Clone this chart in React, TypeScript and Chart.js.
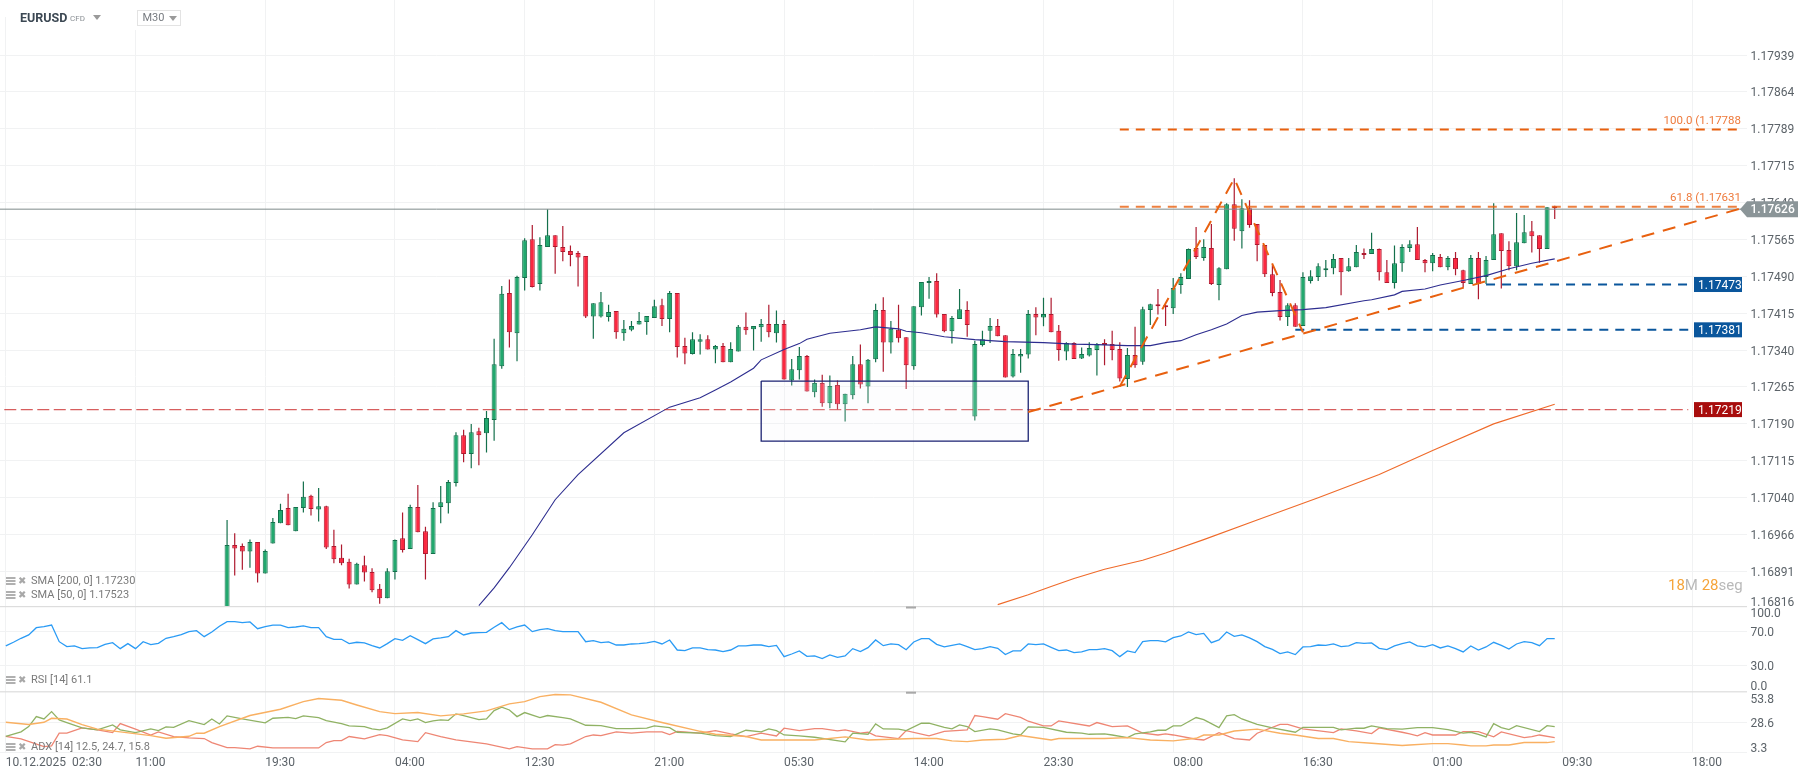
import React, { useEffect, useRef } from "react";
import { Chart, registerables } from "chart.js";

Chart.register(...registerables);

// ---------- candles, M30, first visible candle sits at bar 29 ----------
const firstCandle = 29;
const opens = [1.16792,
1.16944,1.16942,1.16931,1.16950,1.16886,1.16947,1.16988,1.17019,1.16972,1.17019,
1.17044,1.17016,1.17023,1.16942,1.16918,1.16910,1.16864,1.16903,1.16889,1.16855,
1.16836,1.16889,1.16958,1.16936,1.17021,1.16972,1.16926,1.17021,1.17029,1.17070,
1.17167,1.17129,1.17175,1.17171,1.17198,1.17307,1.17456,1.17374,1.17486,1.17565,
1.17474,1.17549,1.17573,1.17549,1.17541,1.17537,1.17531,1.17408,1.17408,1.17407,
1.17419,1.17374,1.17381,1.17392,1.17397,1.17405,1.17431,1.17403,1.17456,1.17348,
1.17332,1.17357,1.17362,1.17341,1.17348,1.17315,1.17337,1.17387,1.17382,1.17386,
1.17393,1.17374,1.17393,1.17278,1.17299,1.17328,1.17254,1.17273,1.17232,1.17269,
1.17230,1.17248,1.17311,1.17266,1.17321,1.17421,1.17355,1.17381,1.17366,1.17307,
1.17427,1.17476,1.17480,1.17413,1.17378,1.17403,1.17421,1.17205,1.17350,1.17379,
1.17389,1.17370,1.17286,1.17327,1.17331,1.17413,1.17406,1.17413,1.17379,1.17337,
1.17354,1.17323,1.17329,1.17340,1.17354,1.17352,1.17342,1.17281,1.17330,1.17316,
1.17421,1.17433,1.17431,1.17425,1.17472,1.17484,1.17547,1.17527,1.17547,1.17472,
1.17504,1.17636,1.17581,1.17628,1.17596,1.17553,1.17494,1.17458,1.17407,1.17431,
1.17389,1.17480,1.17488,1.17502,1.17506,1.17527,1.17500,1.17508,1.17537,1.17535,
1.17545,1.17498,1.17476,1.17516,1.17547,1.17555,1.17523,1.17516,1.17529,1.17508,
1.17527,1.17502,1.17474,1.17527,1.17488,1.17523,1.17577,1.17543,1.17510,1.17557,
1.17581,1.17573,1.17545,1.17632];
const highs = [1.16995,
1.16968,1.16947,1.16955,1.16950,1.16935,1.16999,1.17028,1.17048,1.17021,1.17073,
1.17046,1.17060,1.17024,1.16975,1.16945,1.16916,1.16908,1.16922,1.16897,1.16865,
1.16897,1.16955,1.17010,1.17026,1.17066,1.16981,1.17031,1.17064,1.17076,1.17173,
1.17178,1.17190,1.17182,1.17216,1.17363,1.17470,1.17483,1.17491,1.17567,1.17594,
1.17569,1.17626,1.17573,1.17592,1.17552,1.17541,1.17531,1.17435,1.17458,1.17432,
1.17419,1.17401,1.17399,1.17417,1.17409,1.17442,1.17444,1.17460,1.17456,1.17365,
1.17376,1.17372,1.17370,1.17350,1.17354,1.17356,1.17391,1.17416,1.17389,1.17403,
1.17432,1.17420,1.17401,1.17322,1.17346,1.17330,1.17280,1.17290,1.17288,1.17278,
1.17251,1.17328,1.17351,1.17322,1.17434,1.17447,1.17399,1.17432,1.17366,1.17429,
1.17478,1.17488,1.17496,1.17413,1.17409,1.17464,1.17439,1.17359,1.17379,1.17405,
1.17403,1.17370,1.17342,1.17342,1.17421,1.17427,1.17446,1.17446,1.17391,1.17356,
1.17356,1.17345,1.17356,1.17354,1.17362,1.17379,1.17356,1.17344,1.17387,1.17428,
1.17434,1.17464,1.17432,1.17486,1.17496,1.17546,1.17590,1.17565,1.17596,1.17508,
1.17638,1.17689,1.17646,1.17644,1.17596,1.17553,1.17512,1.17482,1.17435,1.17435,
1.17498,1.17502,1.17516,1.17523,1.17535,1.17527,1.17527,1.17553,1.17546,1.17578,
1.17546,1.17523,1.17552,1.17555,1.17563,1.17590,1.17525,1.17537,1.17535,1.17531,
1.17539,1.17503,1.17533,1.17539,1.17531,1.17638,1.17577,1.17561,1.17618,1.17614,
1.17602,1.17573,1.17630,1.17633];
const lows = [1.16782,
1.16882,1.16894,1.16898,1.16868,1.16886,1.16947,1.16988,1.16984,1.16972,1.17010,
1.17004,1.16992,1.16936,1.16907,1.16903,1.16856,1.16864,1.16870,1.16848,1.16825,
1.16836,1.16874,1.16929,1.16936,1.16970,1.16874,1.16926,1.16988,1.17008,1.17063,
1.17112,1.17100,1.17106,1.17132,1.17156,1.17302,1.17345,1.17317,1.17461,1.17467,
1.17461,1.17549,1.17495,1.17520,1.17510,1.17469,1.17405,1.17363,1.17406,1.17398,
1.17363,1.17359,1.17378,1.17392,1.17371,1.17405,1.17389,1.17376,1.17325,1.17311,
1.17331,1.17331,1.17341,1.17313,1.17315,1.17315,1.17337,1.17371,1.17339,1.17357,
1.17366,1.17355,1.17280,1.17268,1.17280,1.17256,1.17244,1.17225,1.17222,1.17219,
1.17195,1.17240,1.17262,1.17232,1.17315,1.17296,1.17333,1.17355,1.17261,1.17300,
1.17410,1.17444,1.17406,1.17376,1.17353,1.17403,1.17367,1.17197,1.17347,1.17354,
1.17368,1.17284,1.17284,1.17294,1.17323,1.17370,1.17388,1.17376,1.17318,1.17319,
1.17322,1.17322,1.17327,1.17288,1.17309,1.17319,1.17276,1.17265,1.17304,1.17310,
1.17391,1.17412,1.17389,1.17413,1.17454,1.17484,1.17525,1.17521,1.17472,1.17441,
1.17504,1.17562,1.17546,1.17588,1.17520,1.17488,1.17449,1.17400,1.17389,1.17387,
1.17389,1.17475,1.17480,1.17488,1.17494,1.17451,1.17499,1.17508,1.17525,1.17535,
1.17481,1.17476,1.17465,1.17499,1.17539,1.17523,1.17498,1.17500,1.17508,1.17502,
1.17492,1.17467,1.17474,1.17443,1.17474,1.17523,1.17465,1.17502,1.17502,1.17557,
1.17538,1.17517,1.17545,1.17606];
const closes = [1.16944,
1.16937,1.16931,1.16950,1.16886,1.16932,1.16991,1.17015,1.16984,1.17021,1.17042,
1.17017,1.17023,1.16939,1.16915,1.16907,1.16864,1.16906,1.16888,1.16852,1.16836,
1.16891,1.16954,1.16934,1.17021,1.16970,1.16926,1.17019,1.17031,1.17072,1.17167,
1.17129,1.17173,1.17167,1.17202,1.17311,1.17454,1.17376,1.17488,1.17563,1.17468,
1.17553,1.17573,1.17549,1.17539,1.17533,1.17528,1.17408,1.17435,1.17437,1.17417,
1.17376,1.17383,1.17389,1.17399,1.17409,1.17429,1.17403,1.17456,1.17346,1.17333,
1.17362,1.17362,1.17341,1.17348,1.17315,1.17342,1.17387,1.17380,1.17389,1.17393,
1.17376,1.17393,1.17280,1.17301,1.17328,1.17256,1.17273,1.17232,1.17267,1.17230,
1.17251,1.17311,1.17270,1.17320,1.17421,1.17355,1.17383,1.17364,1.17309,1.17429,
1.17478,1.17480,1.17412,1.17378,1.17405,1.17423,1.17391,1.17352,1.17362,1.17389,
1.17368,1.17284,1.17332,1.17332,1.17413,1.17406,1.17413,1.17376,1.17340,1.17354,
1.17322,1.17332,1.17344,1.17352,1.17350,1.17340,1.17282,1.17330,1.17309,1.17423,
1.17433,1.17429,1.17427,1.17466,1.17488,1.17545,1.17529,1.17549,1.17474,1.17506,
1.17636,1.17586,1.17628,1.17594,1.17553,1.17494,1.17456,1.17407,1.17431,1.17387,
1.17488,1.17490,1.17510,1.17506,1.17525,1.17498,1.17510,1.17539,1.17533,1.17545,
1.17498,1.17476,1.17516,1.17549,1.17555,1.17523,1.17516,1.17533,1.17508,1.17527,
1.17504,1.17476,1.17527,1.17474,1.17523,1.17575,1.17541,1.17510,1.17559,1.17579,
1.17571,1.17545,1.17630,1.17628];

// ---------- moving averages, read at the bars listed ----------
const sma50Bars = [62,64,66,69,72,75,81,87,91,93,95,98,99,102,104,105,108,112,114,117,118,120,123,127,131,136,140,143,147,150,152,154,156,158,160,162,164,167,170,173,178,179,182,183,186,188,191,194,197,200,203];
const sma50Values = [1.16821,1.16857,1.16898,1.16965,1.17036,1.17087,1.17172,1.17224,1.17243,1.17259,1.17275,1.17303,1.17320,1.17341,1.17353,1.17362,1.17374,1.17381,1.17387,1.17383,1.17378,1.17375,1.17367,1.17361,1.17357,1.17355,1.17352,1.17351,1.17349,1.17349,1.17355,1.17359,1.17371,1.17381,1.17393,1.17410,1.17417,1.17420,1.17422,1.17426,1.17440,1.17442,1.17452,1.17459,1.17464,1.17472,1.17481,1.17491,1.17505,1.17516,1.17525];
const sma200Bars = [130,134,137,140,144,149,152,157,164,172,180,187,195,203];
const sma200Values = [1.16823,1.16843,1.16860,1.16876,1.16895,1.16913,1.16928,1.16955,1.16995,1.17040,1.17087,1.17136,1.17190,1.17230];

// ---------- RSI, bar by bar from bar 0 ----------
const rsiValues = [
52.8,57.1,61.8,65.7,74.3,75.5,77.4,57.8,52.0,52.8,
49.6,50.4,50.8,54.7,56.7,49.6,55.5,49.6,57.8,54.3,
55.9,61.8,63.7,66.1,69.6,70.8,63.7,69.2,75.9,81.4,
81.4,80.2,81.0,73.1,75.5,77.4,77.4,74.3,75.1,76.3,
74.3,74.3,63.7,60.6,60.6,55.5,57.1,56.3,53.1,50.4,
55.5,61.4,59.4,64.9,60.2,55.5,61.0,62.2,63.7,70.8,
65.7,68.0,68.4,68.8,74.7,80.2,72.0,75.1,77.4,69.6,
72.0,73.1,70.8,69.6,69.6,69.6,57.8,59.0,56.7,57.5,
53.9,53.9,55.1,55.5,56.3,58.2,55.1,59.8,48.0,47.2,
50.4,50.4,48.4,48.0,46.1,48.0,52.8,52.8,53.9,53.9,52.0,53.5,
40.2,43.3,46.9,40.6,41.0,37.9,42.2,39.4,41.0,49.6,
46.1,50.8,59.8,53.1,55.1,54.3,48.4,57.5,61.4,61.4,
54.7,51.6,53.5,55.1,52.0,48.4,49.6,52.0,50.0,42.6,
46.9,46.9,55.1,54.3,55.1,51.2,47.2,48.0,44.9,45.7,
48.4,48.4,49.6,47.2,40.2,46.9,44.9,57.8,59.0,59.0,
57.5,62.6,64.5,69.2,66.1,67.6,56.7,59.8,69.2,64.1,
65.7,62.2,57.8,52.0,48.8,43.7,45.7,42.6,51.6,52.0,
53.9,53.5,55.1,52.0,52.8,56.7,55.9,56.3,50.0,48.4,52.8,55.5,
57.5,52.8,51.6,54.3,50.4,52.8,49.6,45.7,52.8,48.0,
51.6,57.1,53.5,49.2,55.1,57.8,56.7,53.1,61.4,61.4];

// ---------- ADX pane, read at the bars listed ----------
const adxBars = [0,3,5,6,8,10,12,15,19,21,24,25,26,28,32,36,39,41,44,46,49,51,54,57,60,63,66,68,70,72,74,78,82,86,91,93,97,99,106,110,113,119,122,124,126,128,131,133,137,138,144,147,150,153,156,157,159,161,164,167,169,172,174,176,179,183,184,187,189,191,192,194,195,197,199,202,203];
const adxValues = [28.6,26.7,28.6,32.0,31.4,26.7,22.8,20.5,17.4,15.1,16.8,19.4,19.4,25.0,34.3,39.6,46.0,48.6,47.2,43.2,37.6,35.9,36.8,34.0,35.7,38.2,44.1,46.0,50.3,52.0,51.7,45.5,34.8,28.4,21.0,18.5,16.6,13.7,13.7,16.3,13.7,14.9,14.9,12.9,12.3,13.7,14.3,17.4,13.7,14.9,14.9,15.7,13.7,12.9,15.1,17.9,17.9,21.3,22.8,19.4,17.9,14.9,14.9,12.3,10.9,9.0,9.5,10.6,10.6,9.5,8.7,8.7,9.5,9.5,11.5,11.5,12.3];
const plusDiBars = [0,2,3,4,5,6,7,8,10,12,14,15,17,19,20,21,22,24,26,27,28,29,31,34,35,37,38,39,41,42,44,45,47,48,49,50,52,53,54,55,56,57,58,59,60,62,63,64,65,66,67,68,70,71,73,74,76,78,80,82,84,85,87,88,91,93,95,97,99,100,101,102,104,106,110,111,113,114,115,117,118,120,121,123,124,125,126,127,129,130,132,133,134,136,139,141,142,144,145,147,148,150,151,152,153,154,156,157,159,160,161,162,164,166,169,170,174,175,177,178,179,181,183,185,187,189,191,192,193,194,195,196,197,198,201,202,203];
const plusDiValues = [16.8,20.5,25.0,33.4,31.4,37.6,30.6,28.4,23.9,22.2,26.4,22.2,19.9,23.0,21.6,24.7,24.4,30.0,26.7,31.4,27.2,34.0,31.4,28.1,32.0,32.8,31.7,34.0,32.6,30.0,27.5,25.5,25.0,23.0,22.2,23.9,31.4,30.0,31.4,28.4,29.8,30.6,30.3,35.7,34.3,30.9,31.4,38.5,41.3,39.0,33.4,36.8,32.6,34.3,32.6,31.4,26.1,25.8,23.3,23.3,23.6,25.5,24.1,20.2,19.4,17.4,16.6,21.9,20.5,23.0,21.6,17.9,17.1,16.0,12.1,19.4,18.5,27.2,23.0,22.8,21.6,27.8,27.8,24.4,23.0,26.4,25.0,20.8,23.0,22.2,18.8,17.9,24.7,24.4,20.2,19.4,18.5,18.8,17.9,15.7,18.8,20.5,21.9,21.9,25.5,25.5,32.6,30.9,24.1,34.0,35.1,31.4,26.9,23.9,20.2,24.4,24.4,22.2,23.6,23.6,25.5,23.3,22.8,24.1,24.1,22.4,19.4,20.2,18.5,16.3,27.5,24.1,22.4,25.8,20.8,25.8,25.0];
const minusDiBars = [0,2,5,6,7,8,10,12,14,15,17,19,20,22,24,26,27,29,30,32,33,35,41,42,43,44,45,47,49,50,52,54,55,57,59,63,66,67,69,71,72,73,74,76,77,78,80,82,84,86,87,88,91,93,95,97,99,101,102,104,106,107,109,110,112,113,114,117,118,121,123,126,127,128,130,131,133,134,136,137,138,142,143,145,147,149,151,152,153,156,157,159,161,163,164,167,168,170,174,175,177,179,180,183,184,185,186,187,190,191,193,195,196,199,200,201,203];
const minusDiValues = [16.8,14.6,8.1,8.7,19.4,19.4,23.9,22.2,19.9,27.5,22.8,17.9,20.5,16.6,15.4,14.9,11.5,7.3,7.3,6.2,8.4,7.0,7.0,11.5,13.2,13.2,16.6,14.6,18.2,17.4,13.7,12.3,19.9,16.6,13.7,10.4,6.2,8.1,6.2,6.2,9.8,9.3,10.4,16.6,17.9,17.4,20.5,19.4,20.5,20.5,18.2,21.0,19.4,21.6,18.8,16.6,19.4,17.1,23.6,21.6,23.3,23.3,21.3,22.2,19.4,20.2,17.1,14.9,21.6,17.1,21.0,22.2,34.3,33.4,31.2,35.9,32.8,29.5,25.5,25.5,29.8,25.5,28.4,25.0,25.5,19.4,17.9,18.8,17.9,14.3,13.7,19.9,14.9,13.7,19.4,26.9,26.9,23.0,19.9,23.0,21.3,19.1,23.9,20.2,18.8,17.1,19.9,17.9,17.9,20.8,20.8,16.3,20.5,15.7,16.6,17.9,15.7];

// ---------- axes ----------
const gridBars = [0,17,34,51,68,85,102,119,136,153,170,187,204,221];
const timeLabels = ["10.12.2025  02:30","11:00","19:30","04:00","12:30","21:00","05:30","14:00","23:30","08:00","16:30","01:00","09:30","18:00"];
const priceTicks = [1.17939,1.17864,1.17789,1.17715,1.1764,1.17565,1.1749,1.17415,1.1734,1.17265,1.1719,1.17115,1.1704,1.16966,1.16891];
const rsiTicks = [70,30];
const adxTicks = [28.6,3.3];

// ---------- chart drawings ----------
const lastPrice = 1.17626;
const fib100 = 1.17788;
const fib618 = 1.17631;
const support1 = 1.17473;
const support2 = 1.17381;
const resistance = 1.17219;
const zigzagBars = [146,161,170];
const zigzagPrices = [1.17266,1.17688,1.17376];
const trendBars = [134,227.3];
const trendPrices = [1.17214,1.17627];
const boxBars = [99,134];
const boxPrices = [1.17277,1.17155];

const GREEN = "#22a86e", GREEN_EDGE = "#14704c", RED = "#fb2840", RED_EDGE = "#ae1a2f";
const ORANGE = "#e8600f", BLUE = "#0a569c", DARK_RED = "#a80d0d";
const TICK_FONT = "12px Roboto";
const TICK_COLOR = "#5c6369";

const pts = (xs: number[], ys: number[]) => xs.map((x, i) => ({ x, y: ys[i] }));
const hLine = (a: number, b: number, v: number) => [{ x: a, y: v }, { x: b, y: v }];
const lineDs = (data: any[], color: string, width: number, axis: string, order: number, dash?: number[]) => ({
  type: "line", data, borderColor: color, borderWidth: width, borderDash: dash || [], pointRadius: 0,
  tension: 0, fill: false, yAxisID: axis, order, backgroundColor: color,
});
const fixed = (ticks: number[]) => (s: any) => { s.ticks = ticks.map((value) => ({ value })); };
const fitY = (s: any) => { s.width = 63; s.paddingTop = 0; s.paddingBottom = 0; s.paddingLeft = 0; s.paddingRight = 0; };
const fitX = (s: any) => { s.height = 26.5; s.paddingTop = 0; s.paddingBottom = 0; s.paddingLeft = 0; s.paddingRight = 0; };

const overlay = {
  id: "overlay",
  afterDraw(chart: any) {
    const { ctx, scales } = chart;
    const text = (t: string, x: number, y: number, font: string, color: string, align: CanvasTextAlign = "left") => {
      ctx.font = font; ctx.fillStyle = color; ctx.textAlign = align; ctx.textBaseline = "middle"; ctx.fillText(t, x, y);
    };
    const tri = (x: number, y: number, w: number, h: number, c: string) => {
      ctx.fillStyle = c; ctx.beginPath(); ctx.moveTo(x, y); ctx.lineTo(x + w, y); ctx.lineTo(x + w / 2, y + h); ctx.closePath(); ctx.fill();
    };
    ctx.save();
    // pane separators and handles
    ctx.fillStyle = "#dddddd";
    const sep1 = scales.y.bottom, sep2 = scales.rsi.bottom;
    ctx.fillRect(0, sep1 - 0.5, 1747, 1.2); ctx.fillRect(0, sep2 - 0.5, 1747, 1.2);
    ctx.fillStyle = "#a8a8a8";
    ctx.fillRect(906, sep1, 10, 2); ctx.fillRect(906, sep2, 10, 2);

    // clamped axis labels
    const px = (id: string, v: number) => scales[id].getPixelForValue(v);
    text("1.16816", 1750.5, px("y", 1.16816) - 5.5, TICK_FONT, TICK_COLOR);
    text("100.0", 1750.5, 613.5, TICK_FONT, TICK_COLOR);
    text("0.0", 1750.5, 687, TICK_FONT, TICK_COLOR);
    text("53.8", 1750.5, 699.5, TICK_FONT, TICK_COLOR);
    text("3.3", 1750.5, 749, TICK_FONT, TICK_COLOR);

    // fibonacci captions
    text("100.0 (1.17788", 1741, px("y", fib100) - 8.5, "11.5px Roboto", "#ee7a3c", "right");
    text("61.8 (1.17631", 1741, px("y", fib618) - 8.5, "11.5px Roboto", "#ee7a3c", "right");

    // price tags
    const tag = (v: number, bg: string, label: string) => {
      const y = px("y", v);
      ctx.fillStyle = bg; ctx.fillRect(1694, y - 7.5, 48, 15);
      text(label, 1698, y + 1, TICK_FONT, "#ffffff");
    };
    tag(support1, BLUE, "1.17473");
    tag(support2, BLUE, "1.17381");
    tag(resistance, DARK_RED, "1.17219");
    const ly = px("y", lastPrice);
    ctx.fillStyle = "#8b9598";
    ctx.beginPath(); ctx.moveTo(1740, ly); ctx.lineTo(1747, ly - 8); ctx.lineTo(1798, ly - 8); ctx.lineTo(1798, ly + 8); ctx.lineTo(1747, ly + 8); ctx.closePath(); ctx.fill();
    text("1.17626", 1750.5, ly + 1, "500 12px Roboto", "#ffffff");

    // header
    ctx.fillStyle = "#ffffff"; ctx.fillRect(0, 0, 190, 17); ctx.fillRect(130, 0, 60, 30);
    text("EURUSD", 20, 18.5, "bold 12.5px Roboto", "#3c4853");
    text("CFD", 70, 19, "8px Roboto", "#8a8f94");
    tri(93, 15, 8, 5, "#9a9a9a");
    ctx.strokeStyle = "#e3e3e3"; ctx.lineWidth = 1; ctx.strokeRect(137.5, 10.5, 43, 15);
    text("M30", 142.5, 18.5, "11px Roboto", "#777b80");
    tri(169, 16, 8, 5, "#9a9a9a");

    // indicator captions
    const caption = (label: string, y: number) => {
      ctx.fillStyle = "#b0b0b0";
      for (const d of [-4, -1, 2]) ctx.fillRect(6, y + d, 9.5, 2);
      text("\u2716", 18, y, "10px 'DejaVu Sans'", "#a8a8a8");
      text(label, 31, y + 0.5, "11px Roboto", "#7a7a7a");
    };
    caption("SMA [200, 0] 1.17230", 581);
    caption("SMA [50, 0] 1.17523", 595);
    caption("RSI [14] 61.1", 680);
    caption("ADX [14] 12.5, 24.7, 15.8", 747);

    // countdown
    let x = 1668;
    for (const [t, c] of [["18", "#f5a43a"], ["M", "#b9b9b9"], [" 28", "#f5a43a"], ["seg", "#b9b9b9"]]) {
      text(t, x, 586, "15px Roboto", c);
      x += ctx.measureText(t).width;
    }
    ctx.restore();
  },
};

export default function App() {
  const ref = useRef<HTMLCanvasElement>(null);
  useEffect(() => {
    document.body.style.margin = "0";
    const bars = opens.map((_, i) => firstCandle + i);
    const up = opens.map((o, i) => closes[i] >= o);
    const chart = new Chart(ref.current as HTMLCanvasElement, {
      type: "bar",
      data: {
        datasets: [
          {
            ...lineDs(pts(boxBars, [boxPrices[0], boxPrices[0]]).concat(pts([boxBars[1], boxBars[0]], [boxPrices[1], boxPrices[1]]), pts([boxBars[0]], [boxPrices[0]])), "#1b2272", 1.3, "y", 3),
            fill: "shape", backgroundColor: "rgba(245,245,250,0.16)",
          },
          lineDs(hLine(-0.76, 228, lastPrice), "#7e8b8b", 1, "y", 4),
          lineDs(hLine(-0.2, 220.5, resistance), "rgba(200,32,32,0.72)", 1.4, "y", 5, [12, 4.5]),
          lineDs(hLine(146, 227.3, fib100), ORANGE, 2, "y", 6, [9, 7]),
          lineDs(hLine(146, 227.3, fib618), "rgba(232,96,15,0.8)", 2, "y", 6, [9, 7]),
          lineDs(hLine(194, 220.5, support1), BLUE, 2, "y", 6, [9, 7]),
          lineDs(hLine(169, 220.5, support2), BLUE, 2, "y", 6, [9, 7]),
          lineDs(pts(zigzagBars, zigzagPrices), ORANGE, 2, "y", 2, [13, 9]),
          lineDs(pts(trendBars, trendPrices), ORANGE, 2, "y", 2, [13, 9]),
          lineDs(pts(sma50Bars, sma50Values), "#2d2d8f", 1.1, "y", 7),
          lineDs(pts(sma200Bars, sma200Values), "#ef6a2a", 1.1, "y", 7),
          {
            type: "bar", yAxisID: "y", order: 9, grouped: false, barThickness: 5, borderWidth: 1, borderSkipped: false, inflateAmount: 0,
            data: bars.map((x, i) => ({ x, y: [opens[i], closes[i]] })),
            backgroundColor: up.map((u) => (u ? GREEN : RED)),
            borderColor: up.map((u) => (u ? GREEN_EDGE : RED_EDGE)),
          },
          {
            type: "bar", yAxisID: "y", order: 10, grouped: false, barThickness: 1.2, borderWidth: 0, inflateAmount: 0,
            data: bars.map((x, i) => ({ x, y: [lows[i], highs[i]] })),
            backgroundColor: up.map((u) => (u ? GREEN_EDGE : RED_EDGE)),
          },
          lineDs(rsiValues.map((y, x) => ({ x, y })), "#2a9bf5", 1.3, "rsi", 1),
          lineDs(pts(adxBars, adxValues), "#f9b062", 1.4, "adx", 1),
          lineDs(pts(plusDiBars, plusDiValues), "#90b264", 1.3, "adx", 1),
          lineDs(pts(minusDiBars, minusDiValues), "#ee8674", 1.3, "adx", 1),
        ] as any,
      },
      options: {
        animation: false, responsive: false, devicePixelRatio: 1,
        layout: { padding: 0 },
        plugins: { legend: { display: false }, tooltip: { enabled: false } },
        events: [],
        scales: {
          x: {
            type: "linear", position: "bottom", min: -0.76, max: 228.2, offset: false,
            afterBuildTicks: fixed(gridBars),
            afterFit: fitX,
            grid: { color: "#f1f2f3", lineWidth: 1, offset: false, drawTicks: false },
            border: { display: false },
            ticks: {
              autoSkip: false, maxRotation: 0, minRotation: 0, align: "start", padding: 3,
              color: TICK_COLOR, font: { family: "Roboto", size: 12 },
              callback: (_: any, i: number) => timeLabels[i],
            },
          },
          y: {
            type: "linear", position: "right", stack: "panes", stackWeight: 606.5, weight: 1,
            min: 1.168192, max: 1.180507,
            afterBuildTicks: fixed(priceTicks),
            afterFit: fitY,
            grid: { color: "#f1f2f3", lineWidth: 1, drawTicks: false },
            border: { display: false },
            ticks: {
              autoSkip: false, padding: 3.5, labelOffset: 1.5, color: TICK_COLOR, font: { family: "Roboto", size: 12 },
              callback: (v: any) => Number(v).toFixed(5),
            },
          },
          rsi: {
            type: "linear", position: "right", stack: "panes", stackWeight: 85.2, weight: 2,
            min: -1.06, max: 99.2,
            afterBuildTicks: fixed(rsiTicks),
            afterFit: fitY,
            grid: { color: "#f1f2f3", lineWidth: 1, drawTicks: false },
            border: { display: false },
            ticks: {
              autoSkip: false, padding: 3.5, labelOffset: 1.5, color: TICK_COLOR, font: { family: "Roboto", size: 12 },
              callback: (v: any) => Number(v).toFixed(1),
            },
          },
          adx: {
            type: "linear", position: "right", stack: "panes", stackWeight: 60.8, weight: 3,
            min: 3.13, max: 54.4,
            afterBuildTicks: fixed(adxTicks),
            afterFit: fitY,
            grid: { color: "#f1f2f3", lineWidth: 1, drawTicks: false },
            border: { display: false },
            ticks: {
              autoSkip: false, padding: 3.5, labelOffset: 1.5, color: TICK_COLOR, font: { family: "Roboto", size: 12 },
              callback: (v: any) => (Number(v) === 3.3 ? "" : Number(v).toFixed(1)),
            },
          },
        },
      } as any,
      plugins: [overlay],
    });
    return () => chart.destroy();
  }, []);
  return (
    <div style={{ position: "absolute", left: 0, top: 0, width: 1810, height: 779, background: "#fff" }}>
      <canvas ref={ref} width={1810} height={779} style={{ display: "block" }} />
    </div>
  );
}
